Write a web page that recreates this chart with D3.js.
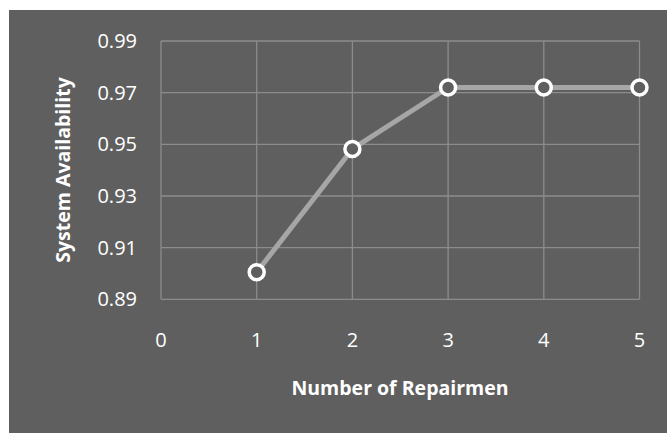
<!DOCTYPE html>
<html>
<head>
<meta charset="utf-8">
<script src="https://cdn.jsdelivr.net/npm/d3@7"></script>
<style>
html,body{margin:0;padding:0;background:#fff;}
svg{display:block;}
</style>
</head>
<body>
<script>
const repairmen = [1, 2, 3, 4, 5];
const availability = [0.9005, 0.9482, 0.9720, 0.9720, 0.9720];
const xTicks = [0, 1, 2, 3, 4, 5];
const yTicks = [0.89, 0.91, 0.93, 0.95, 0.97, 0.99];
const xTitle = "Number of Repairmen";
const yTitle = "System Availability";

const W = 667, H = 433;
const svg = d3.select("body").append("svg").attr("width", W).attr("height", H);
const font = "'Open Sans', sans-serif";

svg.append("rect").attr("x", 9).attr("y", 10).attr("width", W - 9).attr("height", H - 10).attr("fill", "#5f5f5f");

const x = d3.scaleLinear().domain([0, 5]).range([161, 639.5]);
const y = d3.scaleLinear().domain([0.89, 0.99]).range([299.3, 41]);

const g = svg.append("g");
g.selectAll(".vg").data(xTicks).enter().append("line")
  .attr("x1", d => x(d)).attr("x2", d => x(d))
  .attr("y1", y(0.99)).attr("y2", y(0.89))
  .attr("stroke", "#8c8c8c").attr("stroke-width", 1.3);
g.selectAll(".hg").data(yTicks).enter().append("line")
  .attr("x1", x(0)).attr("x2", x(5))
  .attr("y1", d => y(d)).attr("y2", d => y(d))
  .attr("stroke", "#8c8c8c").attr("stroke-width", 1.3);

g.selectAll(".yl").data(yTicks).enter().append("text")
  .attr("x", 137).attr("y", d => y(d)).attr("dy", "0.35em")
  .attr("text-anchor", "end").attr("fill", "#fff")
  .style("font-family", font).style("font-size", "20px")
  .text(d => d.toFixed(2));

g.selectAll(".xl").data(xTicks).enter().append("text")
  .attr("x", d => x(d)).attr("y", 347)
  .attr("text-anchor", "middle").attr("fill", "#fff")
  .style("font-family", font).style("font-size", "20px")
  .text(d => d);

svg.append("text").attr("x", 400).attr("y", 395).attr("text-anchor", "middle")
  .attr("fill", "#fff").style("font-family", font).style("font-size", "19.5px").style("font-weight", "bold")
  .text(xTitle);
svg.append("text").attr("transform", "translate(70,170) rotate(-90)").attr("text-anchor", "middle")
  .attr("fill", "#fff").style("font-family", font).style("font-size", "19.5px").style("font-weight", "bold")
  .text(yTitle);

const data = repairmen.map((r, i) => ({ r, v: availability[i] }));
const line = d3.line().x(d => x(d.r)).y(d => y(d.v));
svg.append("path").datum(data).attr("d", line)
  .attr("fill", "none").attr("stroke", "#a6a6a6").attr("stroke-width", 5).attr("stroke-linejoin", "round");

svg.selectAll(".pt").data(data).enter().append("circle")
  .attr("cx", d => x(d.r)).attr("cy", d => y(d.v)).attr("r", 7.5)
  .attr("fill", "#5f5f5f").attr("stroke", "#fff").attr("stroke-width", 3.5);
</script>
</body>
</html>
